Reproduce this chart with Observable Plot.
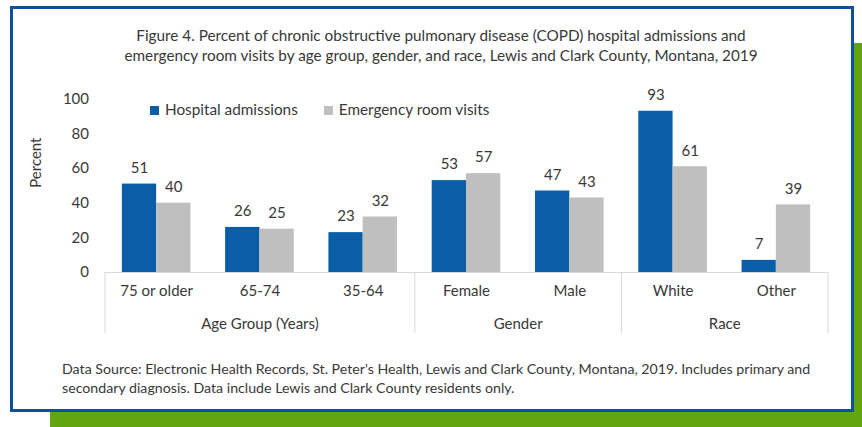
<!DOCTYPE html>
<html>
<head>
<meta charset="utf-8">
<script src="https://cdn.jsdelivr.net/npm/d3@7"></script>
<script src="https://cdn.jsdelivr.net/npm/@observablehq/plot@0.6"></script>
<style>
  html, body { margin: 0; padding: 0; background: #ffffff; }
  #page { position: relative; width: 862px; height: 427px; overflow: hidden; background: #ffffff; font-family: Lato, "Open Sans", sans-serif; color: #383838; }
  #shadow { position: absolute; left: 50px; top: 43px; width: 812px; height: 384px; background: #62a510; }
  #box { position: absolute; left: 10px; top: 6px; width: 844px; height: 406px; box-sizing: border-box; border: 3px solid #0b4f9f; background: #ffffff; }
  #chart { position: absolute; left: 0; top: 0; }
  #title { position: absolute; left: 0; top: 25px; width: 882px; text-align: center; font-size: 15.3px; line-height: 20px; }
  #caption { position: absolute; left: 62px; top: 360px; width: 790px; font-size: 14.2px; line-height: 18.5px; white-space: nowrap; }
  #legend { position: absolute; left: 150px; top: 100px; font-size: 15.3px; line-height: 18px; white-space: nowrap; }
  #legend .item { display: inline-block; margin-right: 26px; }
  #legend .sw { display: inline-block; width: 9px; height: 9px; margin-right: 6px; vertical-align: 0px; }
</style>
</head>
<body>
<div id="page">
  <div id="shadow"></div>
  <div id="box"></div>
  <div id="chart"></div>
  <div id="title"></div>
  <div id="legend"></div>
  <div id="caption"></div>
</div>
<script>
const titleLines = [
  "Figure 4. Percent of chronic obstructive pulmonary disease (COPD) hospital admissions and",
  "emergency room visits by age group, gender, and race, Lewis and Clark County, Montana, 2019"
];
const captionLines = [
  "Data Source: Electronic Health Records, St. Peter's Health, Lewis and Clark County, Montana, 2019. Includes primary and",
  "secondary diagnosis. Data include Lewis and Clark County residents only."
];
const categories = ["75 or older", "65-74", "35-64", "Female", "Male", "White", "Other"];
const groups = ["Age Group (Years)", "Age Group (Years)", "Age Group (Years)", "Gender", "Gender", "Race", "Race"];
const series = ["Hospital admissions", "Emergency room visits"];
const hospital = [51, 26, 23, 53, 47, 93, 7];
const emergency = [40, 25, 32, 57, 43, 61, 39];
const yTicks = [0, 20, 40, 60, 80, 100];
const yLabel = "Percent";
const colors = ["#0a5ea8", "#bfbfbf"];

// table for the library
const rows = categories.flatMap((c, i) => [
  {i, cat: c, series: series[0], value: hospital[i]},
  {i, cat: c, series: series[1], value: emergency[i]}
]);
const W = 0.332; // bar width as a fraction of a category step
const x1 = d => d.series === series[0] ? d.i - W : d.i;
const x2 = d => d.series === series[0] ? d.i : d.i + W;
const xm = d => (x1(d) + x2(d)) / 2;

const groupNames = [...new Set(groups)];
const groupRows = groupNames.map(g => {
  const idx = groups.map((v, i) => v === g ? i : null).filter(v => v !== null);
  return {name: g, mid: d3.mean(idx)};
});
const bounds = [-0.5];
groups.forEach((g, i) => { if (i > 0 && g !== groups[i - 1]) bounds.push(i - 0.5); });
bounds.push(categories.length - 0.5);

const FS = 15;
const chart = Plot.plot({
  width: 862,
  height: 427,
  marginLeft: 104.5,
  marginRight: 34.5,
  marginTop: 98.6,
  marginBottom: 155,
  style: {background: "transparent", fontFamily: "Lato, 'Open Sans', sans-serif", fontSize: FS + "px", color: "#383838"},
  x: {type: "linear", domain: [-0.5, categories.length - 0.5], axis: null},
  y: {domain: [0, 100], axis: null},
  color: {domain: series, range: colors},
  marks: [
    Plot.ruleY([0], {stroke: "#d9d9d9", strokeWidth: 1}),
    Plot.ruleX(bounds, {x: d => d, y1: 0, y2: 0, insetBottom: -61, stroke: "#d9d9d9", strokeWidth: 1}),
    Plot.rectY(rows, {x1, x2, y1: 0, y2: "value", fill: "series"}),
    Plot.text(rows, {x: xm, y: "value", text: d => String(d.value), dy: -16, fill: "#383838", fontSize: FS}),
    Plot.axisY({ticks: yTicks, tickSize: 0, tickPadding: 16, fontSize: FS, label: null}),
    Plot.axisX({ticks: d3.range(categories.length), tickFormat: i => categories[i], tickSize: 0, tickPadding: 13, fontSize: FS, label: null}),
    Plot.text(groupRows, {x: "mid", y: 0, text: "name", dy: 52, fontSize: FS, fill: "#383838"}),
    Plot.text([yLabel], {frameAnchor: "left", rotate: -90, dx: -69, dy: 2, text: d => d, fontSize: FS, fill: "#383838"})
  ]
});
document.getElementById("chart").appendChild(chart);

document.getElementById("title").innerHTML = titleLines.map(t => `<div>${t}</div>`).join("");
document.getElementById("caption").innerHTML = captionLines.map(t => `<div>${t}</div>`).join("");
document.getElementById("legend").innerHTML = series.map((s, k) =>
  `<span class="item"><span class="sw" style="background:${colors[k]}"></span>${s}</span>`).join("");
</script>
</body>
</html>
